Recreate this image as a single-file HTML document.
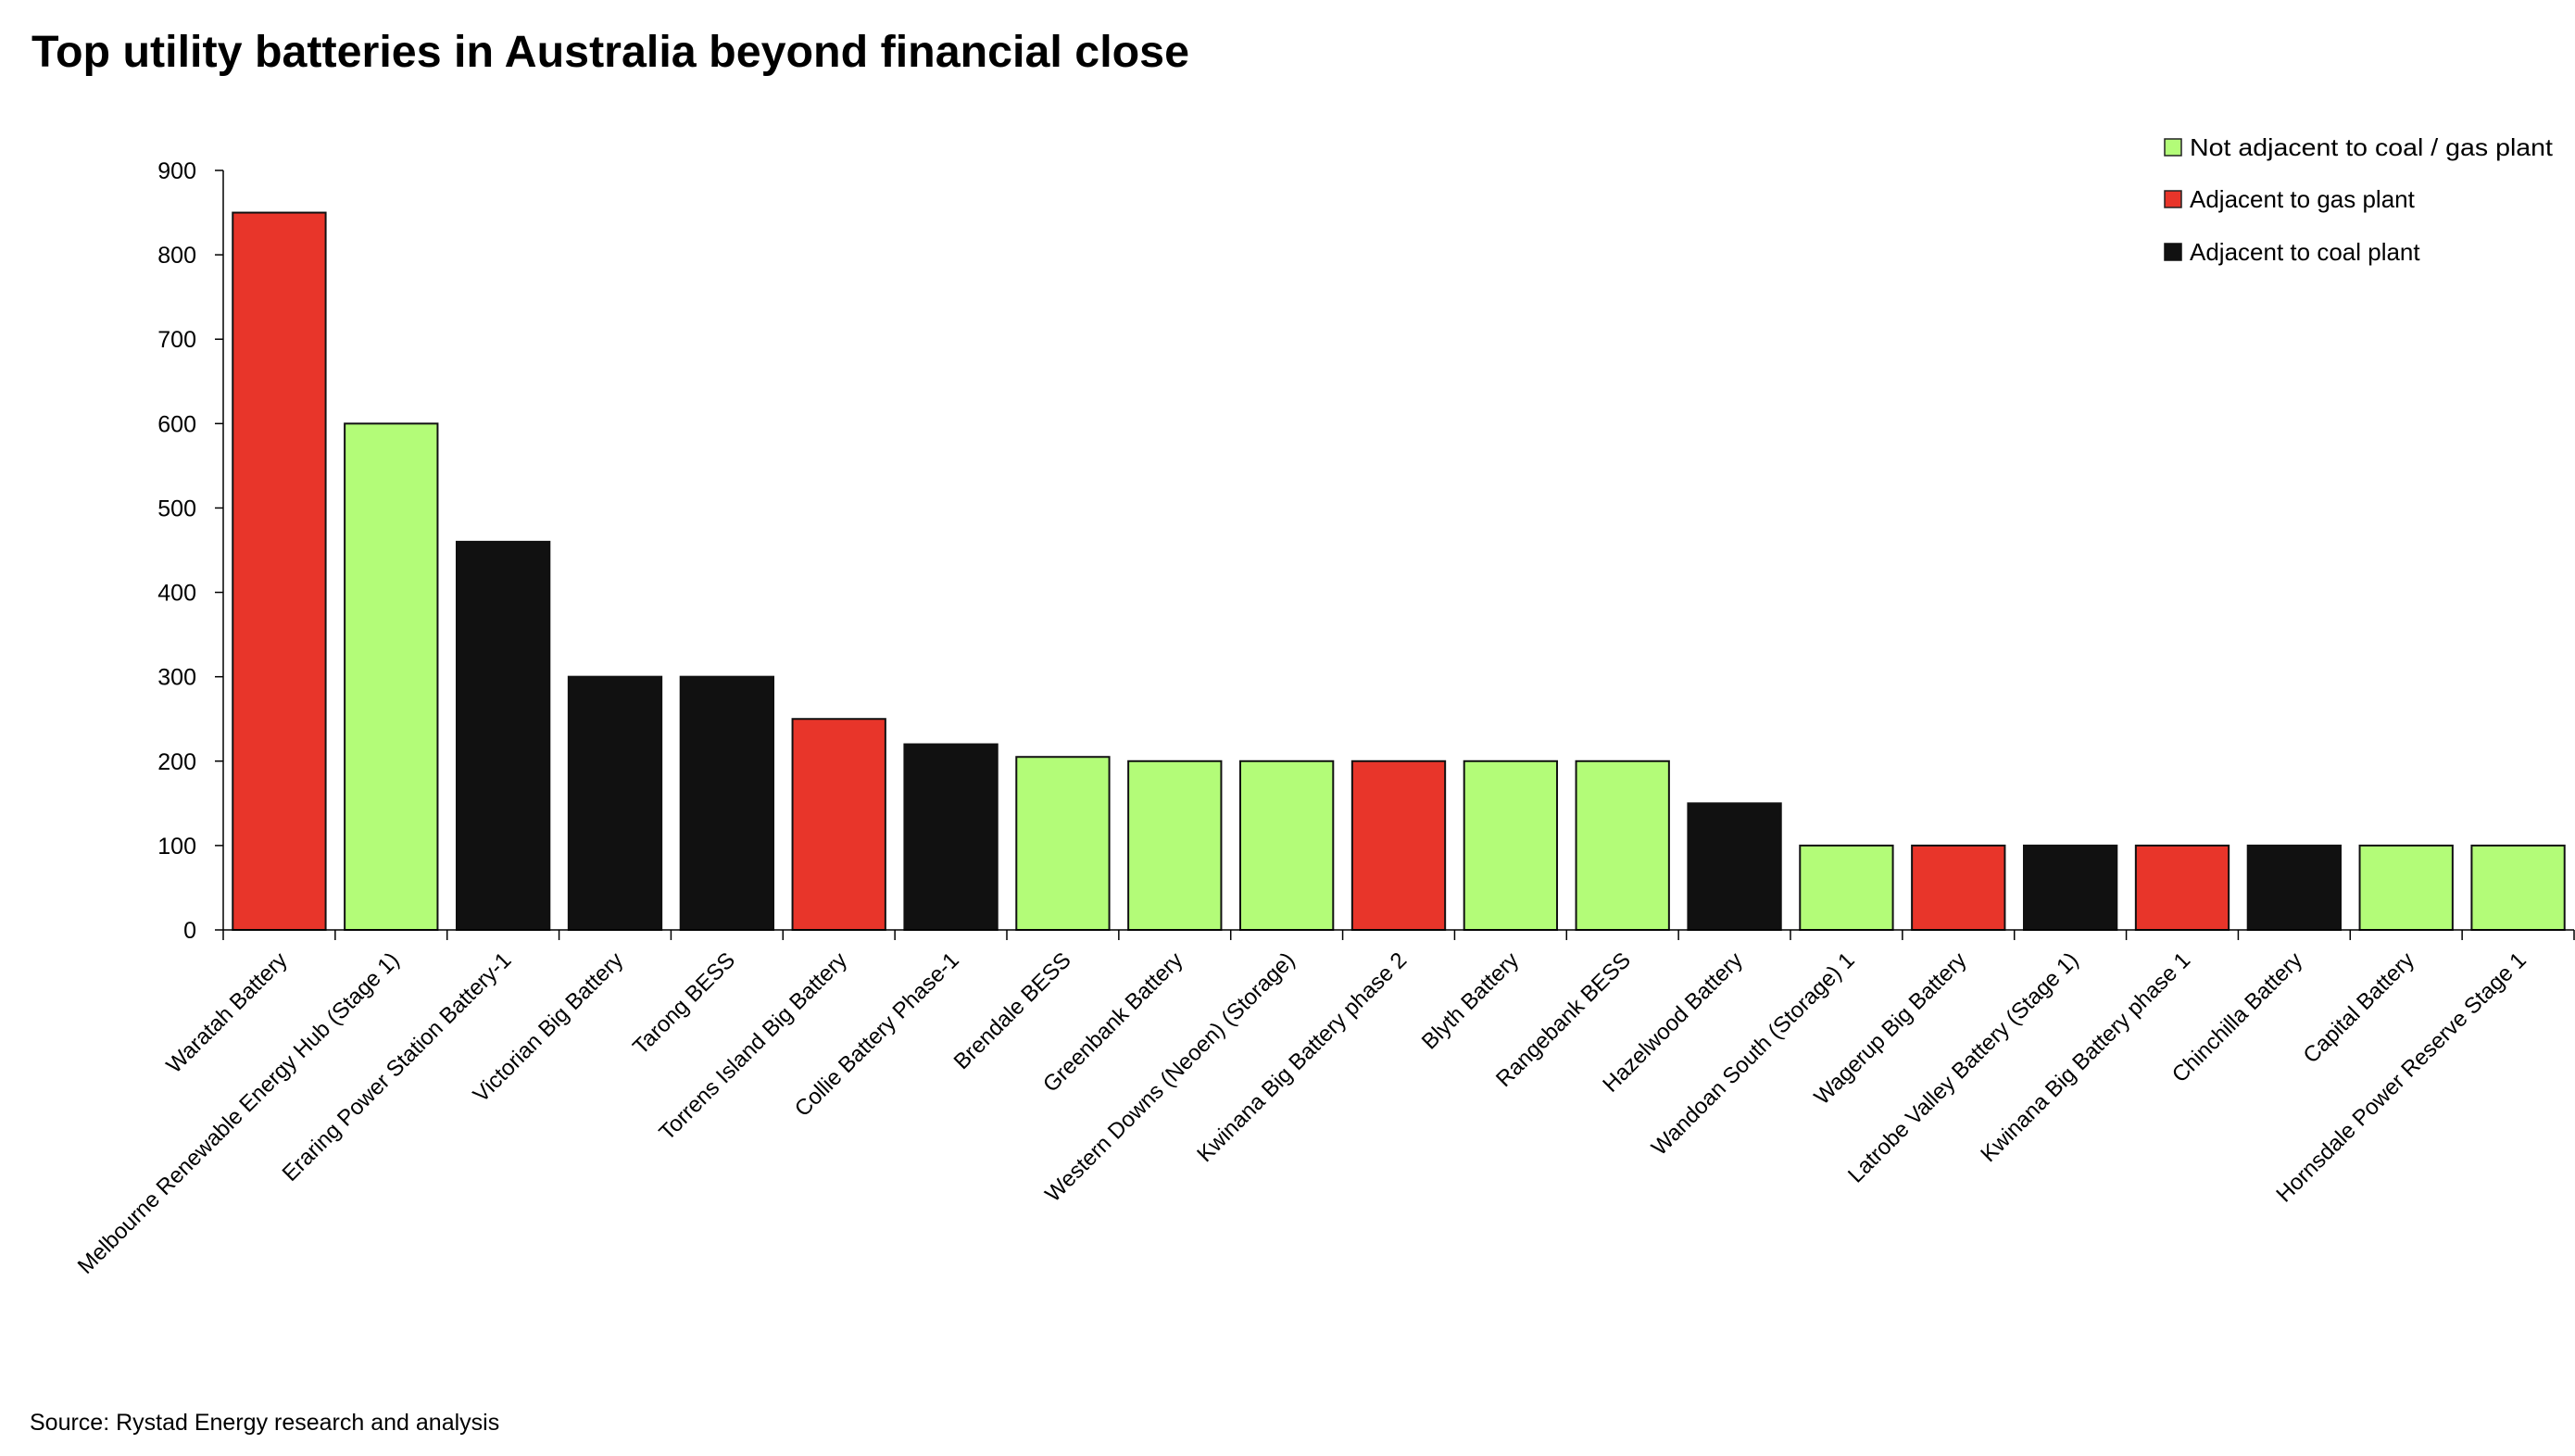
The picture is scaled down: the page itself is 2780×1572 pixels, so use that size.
<!DOCTYPE html>
<html><head><meta charset="utf-8"><style>
html,body{margin:0;padding:0;background:#fff;}
svg{display:block;font-family:"Liberation Sans",sans-serif;}
</style></head><body>
<svg id="chart" width="2780" height="1572" viewBox="0 0 2780 1572" xmlns="http://www.w3.org/2000/svg">
<text x="34" y="72" font-size="48" font-weight="bold" fill="#000" textLength="1250" lengthAdjust="spacingAndGlyphs">Top utility batteries in Australia beyond financial close</text>
<g id="yaxis"></g>
<g id="bars"></g>
<g id="xaxis"></g>
<g>
 <g><rect x="2337" y="150" width="18" height="18" fill="#b3fc78" stroke="#222" stroke-width="1.5"/><text x="2364" y="168" font-size="26" fill="#000" textLength="392" lengthAdjust="spacingAndGlyphs">Not adjacent to coal / gas plant</text></g>
 <g><rect x="2337" y="206" width="18" height="18" fill="#e8352a" stroke="#222" stroke-width="1.5"/><text x="2364" y="224" font-size="26" fill="#000">Adjacent to gas plant</text></g>
 <g><rect x="2337" y="263" width="18" height="18" fill="#111" stroke="#111" stroke-width="1.5"/><text x="2364" y="281" font-size="26" fill="#000">Adjacent to coal plant</text></g>
</g>
<text x="32" y="1544" font-size="25" fill="#000">Source: Rystad Energy research and analysis</text>
</svg>
<script>
const categories = ["Waratah Battery","Melbourne Renewable Energy Hub (Stage 1)","Eraring Power Station Battery-1","Victorian Big Battery","Tarong BESS","Torrens Island Big Battery","Collie Battery Phase-1","Brendale BESS","Greenbank Battery","Western Downs (Neoen) (Storage)","Kwinana Big Battery phase 2","Blyth Battery","Rangebank BESS","Hazelwood Battery","Wandoan South (Storage) 1","Wagerup Big Battery","Latrobe Valley Battery (Stage 1)","Kwinana Big Battery phase 1","Chinchilla Battery","Capital Battery","Hornsdale Power Reserve Stage 1"];
const values = [850,600,460,300,300,250,220,205,200,200,200,200,200,150,100,100,100,100,100,100,100];
const types = ["gas","none","coal","coal","coal","gas","coal","none","none","none","gas","none","none","coal","none","gas","coal","gas","coal","none","none"];
const yTicks = [0,100,200,300,400,500,600,700,800,900];
const NS="http://www.w3.org/2000/svg";
const X0=241, X1=2779, Y0=1004, Y900=184;
const colors={gas:"#e8352a",none:"#b3fc78",coal:"#111111"};
const step=(X1-X0)/categories.length;
function y(v){return Y0-(v/900)*(Y0-Y900);}
function xc(i){return X0+step*(i+0.5);}
function mk(tag,attrs,parent){const e=document.createElementNS(NS,tag);for(const k in attrs)e.setAttribute(k,attrs[k]);parent.appendChild(e);return e;}
const ya=document.getElementById('yaxis'), bars=document.getElementById('bars'), xa=document.getElementById('xaxis');
let l=mk('line',{x1:X0,y1:y(900),x2:X0,y2:Y0,stroke:'#000','stroke-width':1.5},ya);


yTicks.forEach(t=>{
 const tk=mk('line',{x1:X0-9,y1:y(t),x2:X0,y2:y(t),stroke:'#000','stroke-width':1.5},ya);
 
 
 const tx=mk('text',{x:212,y:y(t)+9,'font-size':25,'text-anchor':'end',fill:'#000'},ya);
 tx.textContent=t;
 
 
});
values.forEach((v,i)=>{
 const w=step*0.83;
 const r=mk('rect',{x:xc(i)-w/2,y:y(v),width:w,height:Y0-y(v),fill:colors[types[i]],stroke:'#111','stroke-width':2},bars);
 
 
});
const ax=mk('line',{x1:X0,y1:Y0,x2:X1,y2:Y0,stroke:'#000','stroke-width':1.5},xa);


for(let i=0;i<=categories.length;i++){
 const tk=mk('line',{x1:X0+step*i,y1:Y0,x2:X0+step*i,y2:Y0+11,stroke:'#000','stroke-width':1.5},xa);
 
 
}
categories.forEach((c,i)=>{
 const ex=xc(i)+10, ey=Y0+34;
 const tx=mk('text',{x:ex,y:ey,'font-size':24,'text-anchor':'end',fill:'#000',transform:`rotate(-45 ${ex} ${ey})`},xa);
 tx.textContent=c;
 
 
});
</script>
</body></html>
